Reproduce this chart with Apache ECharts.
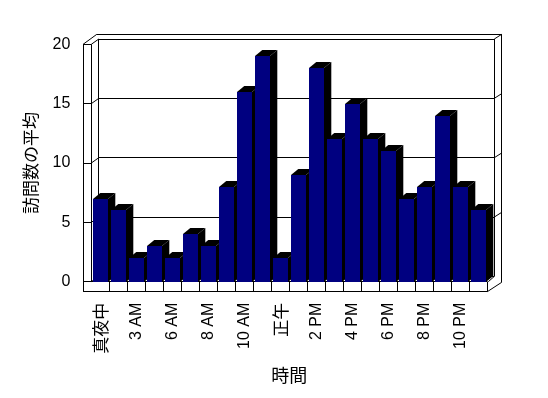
<!DOCTYPE html>
<html>
<head>
<meta charset="utf-8">
<script src="https://cdn.jsdelivr.net/npm/echarts@6/dist/echarts.min.js"></script>
<style>
  html, body { margin: 0; padding: 0; background: #fff; }
  #chart { width: 548px; height: 398px; }
</style>
</head>
<body>
<div id="chart"></div>
<script>
// 時間帯ごとの訪問数の平均
var hours = ['真夜中', '1 AM', '3 AM', '4 AM', '6 AM', '7 AM', '8 AM', '9 AM', '10 AM', '11 AM',
             '正午', '1 PM', '2 PM', '3 PM', '4 PM', '5 PM', '6 PM', '7 PM', '8 PM', '9 PM', '10 PM', '11 PM'];
var visits = [7, 6, 2, 3, 2, 4, 3, 8, 16, 19, 2, 9, 18, 12, 15, 12, 11, 7, 8, 14, 8, 6];
var yTicks = [0, 5, 10, 15, 20];

var FONT = 'Liberation Sans, Arial, sans-serif';
var CJK = 'Noto Sans CJK JP';
// 奥行き
var DX = 7.3, DY = -6;

var chart = echarts.init(document.getElementById('chart'));

function snap(v) { return Math.round(v - 0.5) + 0.5; }

function line(x1, y1, x2, y2) {
    if (x1 === x2) { x1 = x2 = snap(x1); }
    if (y1 === y2) { y1 = y2 = snap(y1); }
    return {
        type: 'line',
        shape: { x1: x1, y1: y1, x2: x2, y2: y2 },
        style: { stroke: '#000', lineWidth: 1 }
    };
}

// 壁と床
function renderFrame(params, api) {
    var cs = params.coordSys;
    var x0 = cs.x, x1 = cs.x + cs.width;
    var yT = cs.y, yB = cs.y + cs.height;
    var wl = x0 - 8.2;          // 左の壁の外側
    var fb = yB + 10;           // 床の下端
    var bx0 = x0 + 7.5, bx1 = x1 + 7;   // 奥の壁
    var by = -5.3;
    var ox = x1 + 14.4, oy = yT - 10;
    var els = [];

    // 床の前面
    els.push(line(wl, yB, x1, yB));
    els.push(line(wl, fb, x1, fb));
    els.push(line(x1, yB, x1, fb));
    for (var i = 1; i < hours.length; i++) {
        var xx = api.coord([i, 0])[0] - api.size([1, 0])[0] / 2;
        els.push(line(xx, yB, xx, fb));
    }
    // 左の壁
    els.push(line(wl, yT, wl, fb));
    els.push(line(x0, yT, x0, yB));
    els.push(line(bx0, yT + by, bx0, yB + by));
    els.push(line(wl, yT, wl + 13.7, oy));
    els.push(line(wl + 13.7, oy, ox, oy));
    // 右側
    els.push(line(ox, oy, ox, yB + 0.6));
    els.push(line(bx1, yT + by, bx1, yB + by));
    els.push(line(bx1, yB + by, x1 + 1, yB));
    els.push(line(x1, fb, ox, yB + 0.6));
    // 目盛線
    yTicks.forEach(function (v) {
        var yf = api.coord([0, v])[1];
        els.push(line(wl, yf, x0, yf));
        els.push(line(x0, yf, bx0, yf + by));
        els.push(line(bx0, yf + by, bx1, yf + by));
        if (v > 0) els.push(line(bx1, yf + by, ox, yf + by - 4.7));
    });
    return { type: 'group', children: els };
}

// 立体の棒
function renderBar(params, api) {
    var i = api.value(0);
    var top = api.coord([i, api.value(1)]);
    var base = api.coord([i, 0]);
    var bw = api.size([1, 0])[0];
    var L = Math.round(top[0] - bw / 2 + 2);
    var R = L + 15;
    var t = Math.round(top[1]), b = Math.round(base[1]);
    return {
        type: 'group',
        children: [
            { type: 'polygon',
              shape: { points: [[R, t], [R + DX, t + DY], [R + DX, b + DY], [R, b]] },
              style: { fill: '#000' } },
            { type: 'polygon',
              shape: { points: [[L, t], [L + DX, t + DY], [R + DX, t + DY], [R, t]] },
              style: { fill: '#000' } },
            { type: 'rect', shape: { x: L, y: t, width: R - L, height: b - t },
              style: { fill: '#000080' } }
        ]
    };
}

var option = {
    animation: false,
    grid: { left: 91.3, top: 44.3, width: 396, height: 237.4 },
    xAxis: {
        type: 'category',
        data: hours,
        name: '時間',
        nameLocation: 'middle',
        nameGap: 84,
        nameTextStyle: { fontFamily: CJK, fontSize: 18, color: '#000', verticalAlign: 'top' },
        axisLine: { show: false },
        axisTick: { show: false },
        axisLabel: {
            interval: 1,
            rotate: 90,
            margin: 21,
            color: '#000',
            fontFamily: FONT,
            fontSize: 16,
            formatter: function (v) {
                return /[^\x00-\x7f]/.test(v) ? '{c|' + v + '}' : v;
            },
            rich: { c: { fontFamily: CJK, fontSize: 17, color: '#000' } }
        }
    },
    yAxis: {
        type: 'value',
        min: 0, max: 20, interval: 5,
        name: '訪問数の平均',
        nameLocation: 'middle',
        nameGap: 52,
        nameTextStyle: { fontFamily: CJK, fontSize: 17, color: '#000' },
        axisLine: { show: false },
        axisTick: { show: false },
        splitLine: { show: false },
        axisLabel: { margin: 21, color: '#000', fontFamily: FONT, fontSize: 16 }
    },
    series: [
        { type: 'custom', renderItem: renderFrame, data: [[0, 0]], z: 1, silent: true },
        { type: 'custom', renderItem: renderBar, z: 2,
          encode: { x: 0, y: 1 },
          data: visits.map(function (v, i) { return [i, v]; }) }
    ]
};
chart.setOption(option);
</script>
</body>
</html>
